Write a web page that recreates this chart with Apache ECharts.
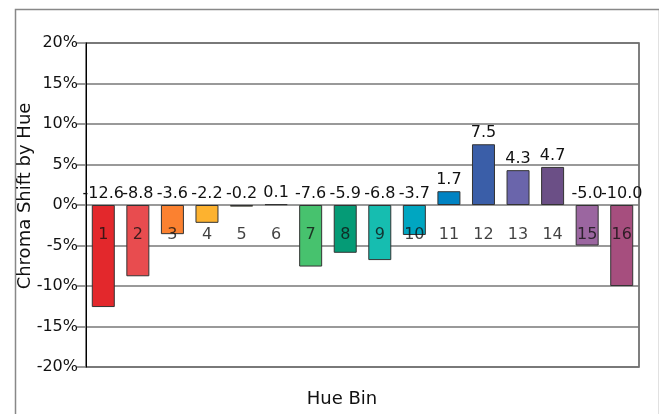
<!DOCTYPE html>
<html>
<head>
<meta charset="utf-8">
<script src="https://cdn.jsdelivr.net/npm/echarts@6/dist/echarts.min.js"></script>
<style>
html,body{margin:0;padding:0;background:#fff;}
#chart{width:659px;height:414px;}
</style>
</head>
<body>
<div id="chart"></div>
<script>
var categories = ['1','2','3','4','5','6','7','8','9','10','11','12','13','14','15','16'];
var values = [-12.6,-8.8,-3.6,-2.2,-0.2,0.1,-7.6,-5.9,-6.8,-3.7,1.7,7.5,4.3,4.7,-5.0,-10.0];
var barColors = ['#e3282c','#e84c4f','#fb8130','#fdb22f','#c9cf3a','#9ccf3c','#47c26e','#059b76',
                 '#16bdb0','#00a6c1','#0083c3','#3a5ea8','#6a65ab','#6b4f86','#9b66a0','#a64e7e'];
var yTicks = {min: -20, max: 20, step: 5};
var yTitle = 'Chroma Shift by Hue';
var xTitle = 'Hue Bin';
var baseline = 0;

var FONT = 'DejaVu Sans';
var chart = echarts.init(document.getElementById('chart'), null, {renderer: 'canvas'});
chart.setOption({
  animation: false,
  backgroundColor: '#fff',
  textStyle: {fontFamily: FONT},
  grid: {left: 86, right: 20, top: 43, bottom: 47, show: true, borderColor: '#555', borderWidth: 1.5, backgroundColor: 'transparent'},
  xAxis: {
    type: 'category',
    data: categories,
    axisLine: {show: false},
    axisTick: {show: false},
    axisLabel: {show: false}
  },
  yAxis: {
    type: 'value',
    min: yTicks.min, max: yTicks.max, interval: yTicks.step,
    axisLine: {show: true, lineStyle: {color: '#000', width: 1}},
    axisTick: {show: true, length: 9, lineStyle: {color: '#777', width: 1.5}},
    axisLabel: {margin: 8, fontSize: 16, color: '#111', fontFamily: FONT, formatter: '{value}%'},
    splitLine: {show: true, lineStyle: {color: '#777', width: 1.5}}
  },
  graphic: [
    {type: 'rect', left: 13, top: 7, shape: {width: 644, height: 430}, style: {fill: 'none', stroke: '#888', lineWidth: 1.5}, silent: true, z: -1},
    {type: 'text', x: 25, y: 196, rotation: Math.PI / 2, style: {text: yTitle, fontSize: 18, fontFamily: FONT, fill: '#111', align: 'center', verticalAlign: 'middle'}},
    {type: 'text', x: 342, y: 399, style: {text: xTitle, fontSize: 18, fontFamily: FONT, fill: '#111', align: 'center', verticalAlign: 'middle'}}
  ],
  series: [{
    type: 'bar',
    barWidth: 23,
    data: values.map(function (v, i) { return {value: v, itemStyle: {color: barColors[i]}}; }),
    itemStyle: {borderColor: '#333', borderWidth: 1},
    label: {
      show: true, position: 'top', distance: 3, fontSize: 16, color: '#111', fontFamily: FONT,
      formatter: function (p) { return p.value.toFixed(1); }
    }
  }, {
    type: 'scatter',
    z: 10,
    symbolSize: 0,
    silent: true,
    data: categories.map(function (c) { return [c, baseline]; }),
    label: {
      show: true, position: 'bottom', distance: 22, fontSize: 16, color: '#111', fontFamily: FONT,
      formatter: function (p) { return p.value[0]; }
    }
  }]
});
</script>
</body>
</html>
